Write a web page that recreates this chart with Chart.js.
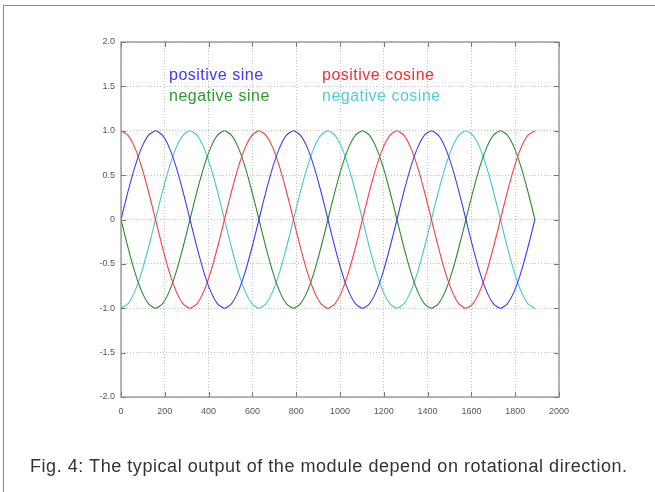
<!DOCTYPE html>
<html><head><meta charset="utf-8">
<script src="https://cdn.jsdelivr.net/npm/chart.js@4.4.1/dist/chart.umd.min.js"></script>
<style>
html,body{margin:0;padding:0;background:#fff;width:655px;height:492px;overflow:hidden;}
#frame{position:absolute;left:3px;top:5px;width:700px;height:600px;border:1.5px solid #8a8a8a;box-sizing:border-box;}
#wrap{position:absolute;left:0;top:0;width:655px;height:492px;}
.lg{position:absolute;font-family:"Liberation Sans",Arial,sans-serif;font-size:16px;line-height:16px;letter-spacing:0.5px;white-space:nowrap;}
#cap{position:absolute;left:30px;top:456px;font-family:"Liberation Sans",Arial,sans-serif;font-size:18px;line-height:20px;letter-spacing:0.55px;color:#333;white-space:nowrap;}
</style></head>
<body>
<div id="frame"></div>
<div id="wrap"><canvas id="c" width="655" height="492"></canvas></div>
<div class="lg" style="left:169px;top:67px;color:#3a3aff">positive sine</div>
<div class="lg" style="left:169px;top:88px;color:#2e9a2e">negative sine</div>
<div class="lg" style="left:322px;top:67px;color:#ff2a2a">positive cosine</div>
<div class="lg" style="left:322px;top:88px;color:#4fcfcf">negative cosine</div>
<div id="cap">Fig. 4: The typical output of the module depend on rotational direction.</div>
<script>
const xValues = [0,31.5,63,94.5,126,157.5,189,220.5,252,283.5,315,346.5,378,409.5,441,472.5,504,535.5,567,598.5,
630,661.5,693,724.5,756,787.5,819,850.5,882,913.5,945,976.5,1008,1039.5,1071,1102.5,1134,1165.5,1197,1228.5,
1260,1291.5,1323,1354.5,1386,1417.5,1449,1480.5,1512,1543.5,1575,1606.5,1638,1669.5,1701,1732.5,1764,1795.5,1827,1858.5,1890];
const positiveSine = [0,0.31,0.59,0.81,0.95,1,0.95,0.81,0.59,0.31,0,-0.31,-0.59,-0.81,-0.95,-1,-0.95,-0.81,-0.59,-0.31,
0,0.31,0.59,0.81,0.95,1,0.95,0.81,0.59,0.31,0,-0.31,-0.59,-0.81,-0.95,-1,-0.95,-0.81,-0.59,-0.31,
0,0.31,0.59,0.81,0.95,1,0.95,0.81,0.59,0.31,0,-0.31,-0.59,-0.81,-0.95,-1,-0.95,-0.81,-0.59,-0.31,0];
const positiveCosine = [1,0.95,0.81,0.59,0.31,0,-0.31,-0.59,-0.81,-0.95,-1,-0.95,-0.81,-0.59,-0.31,0,0.31,0.59,0.81,0.95,
1,0.95,0.81,0.59,0.31,0,-0.31,-0.59,-0.81,-0.95,-1,-0.95,-0.81,-0.59,-0.31,0,0.31,0.59,0.81,0.95,
1,0.95,0.81,0.59,0.31,0,-0.31,-0.59,-0.81,-0.95,-1,-0.95,-0.81,-0.59,-0.31,0,0.31,0.59,0.81,0.95,1];
const negativeSine = [0,-0.31,-0.59,-0.81,-0.95,-1,-0.95,-0.81,-0.59,-0.31,0,0.31,0.59,0.81,0.95,1,0.95,0.81,0.59,0.31,
0,-0.31,-0.59,-0.81,-0.95,-1,-0.95,-0.81,-0.59,-0.31,0,0.31,0.59,0.81,0.95,1,0.95,0.81,0.59,0.31,
0,-0.31,-0.59,-0.81,-0.95,-1,-0.95,-0.81,-0.59,-0.31,0,0.31,0.59,0.81,0.95,1,0.95,0.81,0.59,0.31,0];
const negativeCosine = [-1,-0.95,-0.81,-0.59,-0.31,0,0.31,0.59,0.81,0.95,1,0.95,0.81,0.59,0.31,0,-0.31,-0.59,-0.81,-0.95,
-1,-0.95,-0.81,-0.59,-0.31,0,0.31,0.59,0.81,0.95,1,0.95,0.81,0.59,0.31,0,-0.31,-0.59,-0.81,-0.95,
-1,-0.95,-0.81,-0.59,-0.31,0,0.31,0.59,0.81,0.95,1,0.95,0.81,0.59,0.31,0,-0.31,-0.59,-0.81,-0.95,-1];
const xTicks = [0,200,400,600,800,1000,1200,1400,1600,1800,2000];
const yTicks = [2,1.5,1,0.5,0,-0.5,-1,-1.5,-2];

const toXY = arr => arr.map((v,i)=>({x:xValues[i], y:v}));
const series = [
  {label:'positive sine', data:positiveSine, color:'#3c3cff'},
  {label:'positive cosine', data:positiveCosine, color:'#ff3c3c'},
  {label:'negative sine', data:negativeSine, color:'#2a8c2a'},
  {label:'negative cosine', data:negativeCosine, color:'#45c8c8'}
];

const innerTicks = {
  id:'innerTicks',
  afterDraw(chart){
    const {ctx, chartArea:a, scales:{x,y}} = chart;
    ctx.save();
    ctx.strokeStyle='#777'; ctx.lineWidth=1;
    ctx.beginPath();
    xTicks.forEach(v=>{ const px=Math.round(x.getPixelForValue(v))+0.5;
      ctx.moveTo(px,a.top); ctx.lineTo(px,a.top+5);
      ctx.moveTo(px,a.bottom); ctx.lineTo(px,a.bottom-5);});
    yTicks.forEach(v=>{ const py=Math.round(y.getPixelForValue(v))+0.5;
      ctx.moveTo(a.left,py); ctx.lineTo(a.left+5,py);
      ctx.moveTo(a.right,py); ctx.lineTo(a.right-5,py);});
    ctx.stroke();
    ctx.strokeStyle='#888'; ctx.lineWidth=1.2;
    ctx.strokeRect(a.left,a.top,a.right-a.left,a.bottom-a.top);
    ctx.restore();
  }
};

new Chart(document.getElementById('c'), {
  type:'line',
  data:{datasets: series.map(s=>({label:s.label, data:toXY(s.data), borderColor:s.color, borderWidth:1.1, pointRadius:0, tension:0.2, fill:false}))},
  options:{
    responsive:false, animation:false, maintainAspectRatio:false,
    layout:{padding:{left:0,right:96,top:42,bottom:65}},
    plugins:{legend:{display:false}, tooltip:{enabled:false}},
    scales:{
      x:{type:'linear', min:0, max:2000,
        afterBuildTicks(s){ s.ticks = xTicks.map(v=>({value:v})); },
        afterFit(s){ s.height=30; },
        grid:{color:'#bdbdbd', drawTicks:false, lineWidth:1},
        border:{display:false, dash:[1,2]},
        ticks:{padding:9, color:'#555', font:{family:'Liberation Sans', size:9}, maxRotation:0, autoSkip:false,
          callback:v=>String(v)}
      },
      y:{type:'linear', min:-2, max:2,
        afterBuildTicks(s){ s.ticks = yTicks.map(v=>({value:v})); },
        afterFit(s){ s.width=121; },
        grid:{color:'#bdbdbd', drawTicks:false, lineWidth:1},
        border:{display:false, dash:[1,2]},
        ticks:{padding:6, color:'#555', font:{family:'Liberation Sans', size:9}, autoSkip:false,
          callback:v=> v===0 ? '0' : v.toFixed(1)}
      }
    }
  },
  plugins:[innerTicks]
});
</script>
</body></html>
